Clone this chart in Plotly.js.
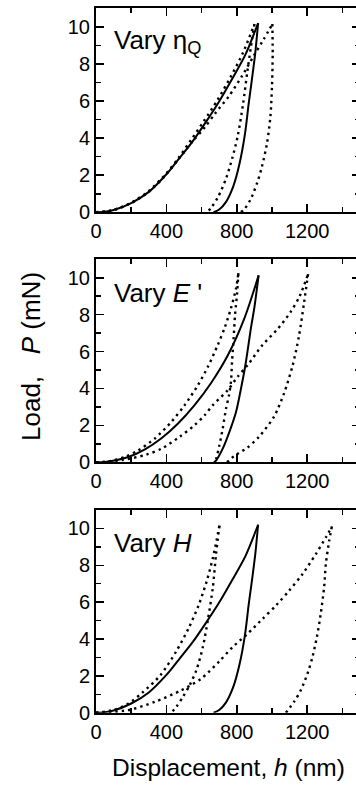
<!DOCTYPE html>
<html><head><meta charset="utf-8">
<script src="https://cdn.plot.ly/plotly-3.0.1.min.js"></script>
<style>html,body{margin:0;padding:0;overflow:hidden;background:#fff;width:356px;height:785px}#chart{width:366px;height:785px}</style>
</head><body><div id="chart"></div><script>
// Reference curve (solid) in panels 1 and 3
const refLoadH = [0, 50, 100, 200, 300, 400, 472, 547, 623, 698, 774, 849, 921];
const refLoadP = [0, 0.03, 0.12, 0.5, 1.1, 2.05, 2.9, 3.8, 4.85, 5.95, 7.2, 8.5, 10.2];
const refUnloadH = [921, 905, 885, 868, 846, 815, 780, 738, 700, 668];
const refUnloadP = [10.2, 8.6, 7.1, 5.9, 4.2, 2.6, 1.4, 0.55, 0.15, 0];
// Reference curve (solid) as drawn in panel 2
const ref2LoadH = [0, 52, 184, 278, 372, 466, 560, 654, 749, 843, 924];
const ref2LoadP = [0, 0.02, 0.29, 0.7, 1.3, 2.1, 3.1, 4.3, 5.8, 7.8, 10.13];
const ref2UnloadH = [924, 900, 880, 852, 824, 796, 758, 720, 683, 670];
const ref2UnloadP = [10.13, 8.4, 7.26, 5.45, 4.0, 2.74, 1.65, 0.74, 0.11, 0];

// Panel 1: vary eta_Q
const qLowLoadH = [0, 100, 200, 300, 400, 470, 540, 615, 690, 765, 835, 900];
const qLowLoadP = [0, 0.13, 0.52, 1.15, 2.1, 2.95, 3.9, 4.95, 6.05, 7.3, 8.6, 10.15];
const qLowUnloadH = [900, 880, 860, 835, 805, 775, 740, 695, 655, 632];
const qLowUnloadP = [10.15, 8.9, 7.6, 5.8, 4.1, 2.95, 1.85, 0.85, 0.25, 0];
const qHighLoadH = [0, 100, 200, 300, 400, 472, 547, 620, 679, 755, 830, 896, 953, 1002];
const qHighLoadP = [0, 0.12, 0.5, 1.1, 2.05, 2.9, 3.8, 4.6, 5.36, 6.26, 7.35, 8.43, 9.33, 10.15];
const qHighUnloadH = [1002, 1004, 1000, 991, 972, 943, 915, 877, 839, 820];
const qHighUnloadP = [10.15, 8.61, 6.8, 5.18, 3.74, 2.47, 1.57, 0.67, 0.12, 0];

// Panel 2: vary E'
const eHighLoadH = [0, 60, 165, 240, 334, 428, 504, 579, 636, 692, 730, 767, 796, 809];
const eHighLoadP = [0, 0.03, 0.29, 0.65, 1.29, 2.19, 3.1, 4.18, 5.18, 6.36, 7.26, 8.35, 9.44, 10.25];
const eHighUnloadH = [809, 801, 790, 782, 773, 767, 755, 739, 720, 701, 683, 673];
const eHighUnloadP = [10.25, 9.08, 7.99, 6.72, 5.45, 4.37, 3.6, 2.92, 1.83, 0.92, 0.2, 0];
const eLowLoadH = [0, 150, 287, 372, 475, 560, 617, 664, 749, 805, 862, 946, 1030, 1106, 1157, 1205];
const eLowLoadP = [0, 0.12, 0.42, 0.74, 1.38, 2.01, 2.55, 3.1, 3.91, 4.64, 5.27, 6.36, 7.2, 8.15, 9.0, 10.2];
const eLowUnloadH = [1205, 1182, 1153, 1116, 1069, 1012, 937, 918, 861, 786, 745];
const eLowUnloadP = [10.2, 8.64, 6.83, 5.2, 3.75, 2.48, 1.5, 1.3, 0.8, 0.35, 0];

// Panel 3: vary H
const hHighLoadH = [0, 100, 184, 265, 367, 457, 527, 584, 631, 664, 686, 701];
const hHighLoadP = [0, 0.15, 0.5, 1.1, 2.05, 3.35, 4.6, 5.85, 7.2, 8.4, 9.4, 10.15];
const hHighUnloadH = [701, 682, 664, 635, 607, 570, 532, 494, 457, 428];
const hHighUnloadP = [10.15, 8.6, 6.8, 5.0, 3.56, 2.3, 1.49, 0.86, 0.32, 0];
const hLowLoadH = [0, 184, 334, 485, 598, 702, 777, 862, 947, 1023, 1098, 1174, 1249, 1306, 1340];
const hLowLoadP = [0, 0.14, 0.59, 1.22, 1.85, 2.8, 3.57, 4.29, 5.1, 5.82, 6.63, 7.53, 8.61, 9.51, 10.1];
const hLowUnloadH = [1340, 1325, 1306, 1296, 1277, 1255, 1230, 1202, 1164, 1126, 1079];
const hLowUnloadP = [10.1, 9.33, 8.07, 6.81, 5.37, 4.11, 3.03, 2.13, 1.23, 0.6, 0];

const xTickVals = [0, 400, 800, 1200];
const yTickVals = [0, 2, 4, 6, 8, 10];
const panelLabels = ['Vary \u03B7<sub>Q</sub>', 'Vary <i>E</i> \'', 'Vary <i>H</i>'];
const yTitle = 'Load,\u00A0\u00A0 <i>P</i> (mN)';
const xTitle = 'Displacement, <i>h</i> (nm)';

const FONT = 'Liberation Sans, Arial, Helvetica, sans-serif';
const solid = {color:'#000', width:2, shape:'spline', smoothing:0.8};
const dotted = {color:'#000', width:2.4, dash:'2.4px,4px', shape:'spline', smoothing:0.8};

function tr(x, y, line, ax){
  return {x:x, y:y, type:'scatter', mode:'lines', line:line, xaxis:'x'+ax, yaxis:'y'+ax, hoverinfo:'skip', showlegend:false};
}
const panels = [
  {ax:'', ref:[[refLoadH,refLoadP],[refUnloadH,refUnloadP]],
   dots:[[qLowLoadH,qLowLoadP],[qLowUnloadH,qLowUnloadP],[qHighLoadH,qHighLoadP],[qHighUnloadH,qHighUnloadP]]},
  {ax:'2', ref:[[ref2LoadH,ref2LoadP],[ref2UnloadH,ref2UnloadP]],
   dots:[[eHighLoadH,eHighLoadP],[eHighUnloadH,eHighUnloadP],[eLowLoadH,eLowLoadP],[eLowUnloadH,eLowUnloadP]]},
  {ax:'3', ref:[[refLoadH,refLoadP],[refUnloadH,refUnloadP]],
   dots:[[hHighLoadH,hHighLoadP],[hHighUnloadH,hHighUnloadP],[hLowLoadH,hLowLoadP],[hLowUnloadH,hLowUnloadP]]}
];
const data = [];
panels.forEach(p => {
  p.dots.forEach(d => data.push(tr(d[0], d[1], dotted, p.ax)));
  p.ref.forEach(d => data.push(tr(d[0], d[1], solid, p.ax)));
});

const tickCommon = {ticks:'inside', ticklen:8, tickwidth:1.5, tickcolor:'#000', showline:true, linewidth:2,
  linecolor:'#000', mirror:'ticks', showgrid:false, zeroline:false, fixedrange:true,
  tickfont:{family:FONT, size:20, color:'#000'}};
function xAx(anchor){
  return Object.assign({}, tickCommon, {range:[0,1500], tickvals:xTickVals, ticktext:xTickVals.map(String), anchor:anchor,
    minor:{dtick:200, tick0:0, ticks:'inside', ticklen:5, tickwidth:1.5, tickcolor:'#000', showgrid:false}});
}
function yAx(anchor, dom){
  return Object.assign({}, tickCommon, {range:[0,11], tickvals:yTickVals, ticktext:yTickVals.map(String), anchor:anchor, domain:dom,
    minor:{dtick:1, tick0:0, ticks:'inside', ticklen:5, tickwidth:1.5, tickcolor:'#000', showgrid:false}});
}
const H = 785;
const layout = {
  width:366, height:H, margin:{l:96, r:6, t:0, b:0}, paper_bgcolor:'#fff', plot_bgcolor:'#fff',
  font:{family:FONT, color:'#000'},
  xaxis:xAx('y'), yaxis:yAx('x', [1-212.3/H, 1-8.3/H]),
  xaxis2:xAx('y2'), yaxis2:yAx('x2', [1-462.3/H, 1-259.3/H]),
  xaxis3:xAx('y3'), yaxis3:yAx('x3', [1-712.7/H, 1-510/H]),
  annotations:[
    {text:panelLabels[0], xref:'x', yref:'y', x:92, y:9.2, xanchor:'left', yanchor:'middle', showarrow:false, font:{size:26}},
    {text:panelLabels[1], xref:'x2', yref:'y2', x:92, y:9.2, xanchor:'left', yanchor:'middle', showarrow:false, font:{size:26}},
    {text:panelLabels[2], xref:'x3', yref:'y3', x:92, y:9.2, xanchor:'left', yanchor:'middle', showarrow:false, font:{size:26}},
    {text:yTitle, xref:'paper', yref:'paper', x:(31-96)/264, y:1-357/H, xanchor:'center', yanchor:'middle', textangle:-90, showarrow:false, font:{size:26}},
    {text:xTitle, xref:'paper', yref:'paper', x:(228-96)/264, y:1-767/H, xanchor:'center', yanchor:'middle', showarrow:false, font:{size:24.5}}
  ]
};
Plotly.newPlot('chart', data, layout, {displayModeBar:false, staticPlot:true});
</script></body></html>
